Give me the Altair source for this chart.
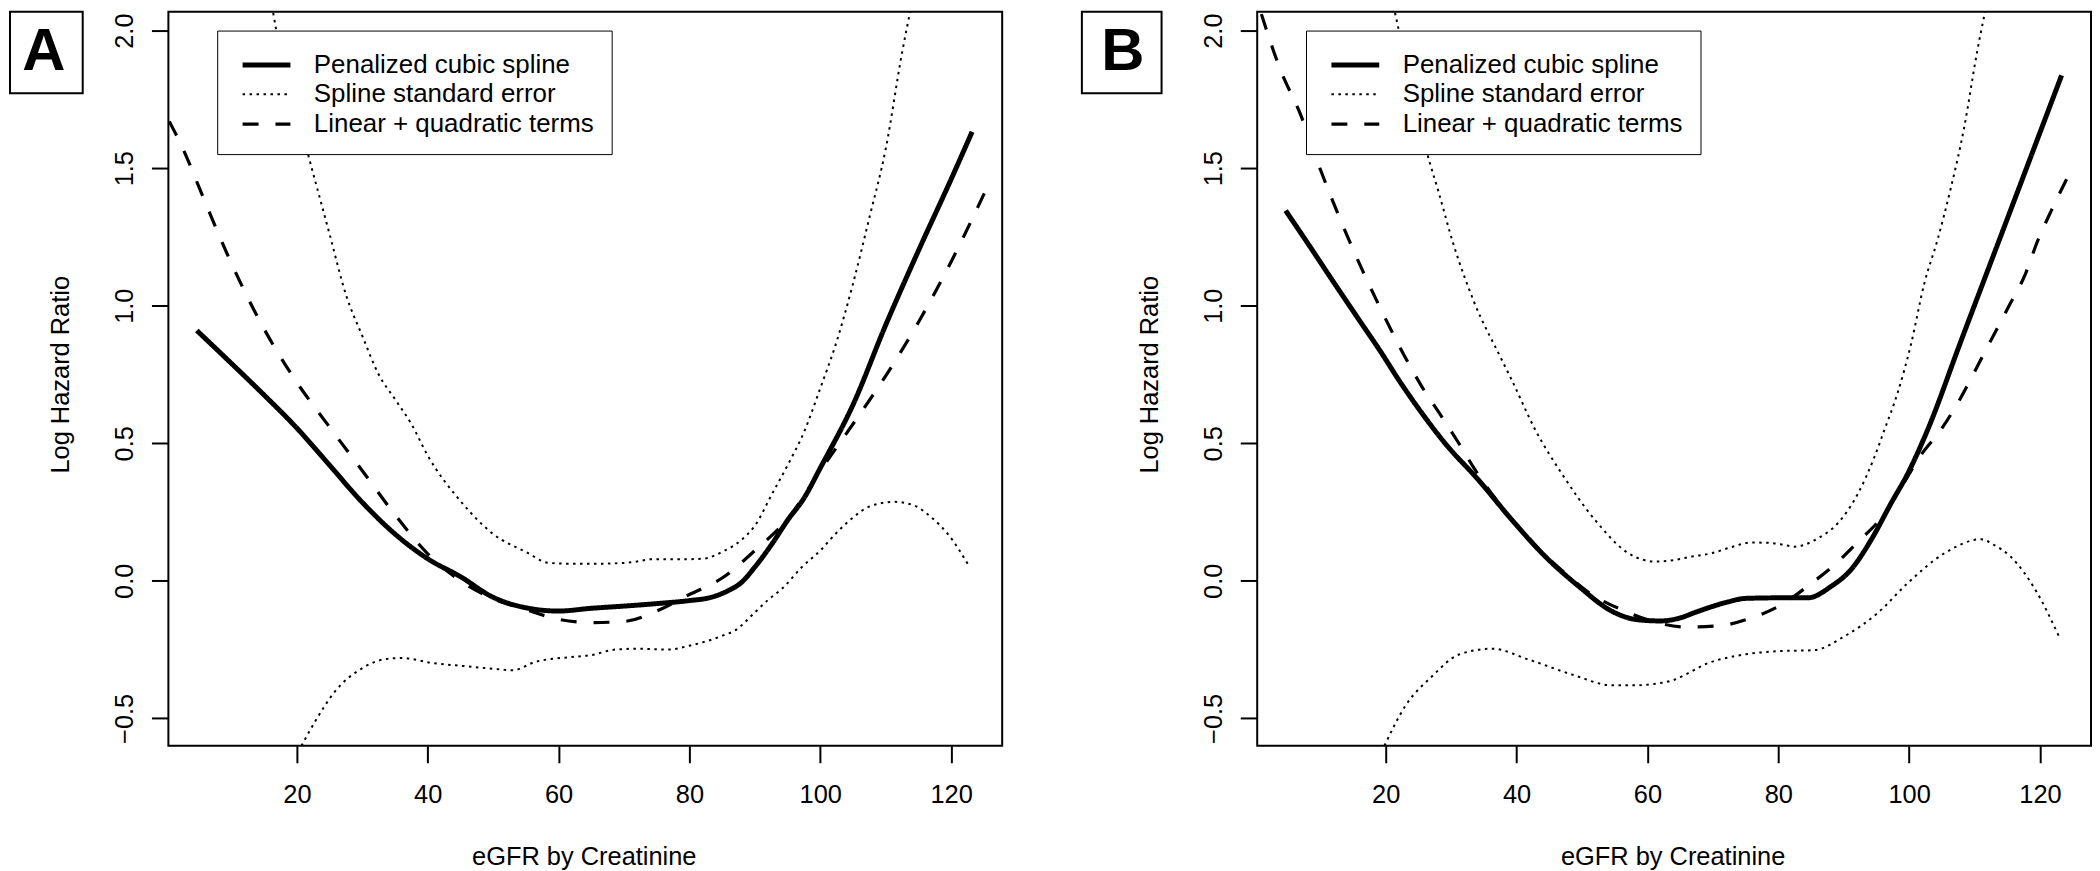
import altair as alt
import pandas as pd

FONT = "Liberation Sans, Arial, sans-serif"

X_TICKS = [20, 40, 60, 80, 100, 120]
Y_TICKS = [-0.5, 0.0, 0.5, 1.0, 1.5, 2.0]
SERIES = ["Penalized cubic spline", "Spline standard error", "Linear + quadratic terms"]
PANEL_LABELS = ["A", "B"]
X_TITLE = "eGFR by Creatinine"
Y_TITLE = "Log Hazard Ratio"

# ---------------- Panel A ----------------
A_SPLINE_X = [4.7, 10, 15, 20, 25, 30, 35, 40, 45, 50, 55, 60, 65, 70, 75, 80, 83, 86, 88, 90,
              92.5, 95, 97.5, 100, 105, 110, 115, 120, 123.2]
A_SPLINE_Y = [0.91, 0.79, 0.675, 0.555, 0.42, 0.285, 0.17, 0.08, 0.015, -0.06, -0.098, -0.11, -0.10,
              -0.092, -0.083, -0.072, -0.062, -0.035, -0.005, 0.05, 0.13, 0.22, 0.30, 0.41, 0.64,
              0.93, 1.20, 1.46, 1.632]

A_QUAD_X = [0.5, 2.6, 5.4, 9.5, 14.2, 19.6, 24.8, 30, 35, 40, 45, 50, 55, 60, 65, 70, 75, 80, 85,
            90, 95, 100, 105, 110, 115, 120, 125.3]
A_QUAD_Y = [1.67, 1.57, 1.41, 1.18, 0.95, 0.735, 0.565, 0.40, 0.24, 0.098, 0.0, -0.065, -0.105,
            -0.14, -0.152, -0.148, -0.11, -0.05, 0.01, 0.11, 0.225, 0.40, 0.57, 0.745, 0.94, 1.16, 1.42]

A_SE_UP_X = [16.2, 18, 20, 22.5, 25, 27.5, 30, 32.5, 35, 37.5, 40, 45, 50, 55, 58.5, 62, 66, 70, 72,
             74, 78, 82, 85, 88, 90, 92.5, 95, 97.5, 100, 102.5, 105, 107.5, 110, 112.5, 114]
A_SE_UP_Y = [2.09, 1.86, 1.70, 1.48, 1.26, 1.04, 0.89, 0.75, 0.66, 0.57, 0.455, 0.29, 0.17, 0.105,
             0.065, 0.062, 0.062, 0.065, 0.07, 0.078, 0.078, 0.08, 0.105, 0.15, 0.20, 0.31, 0.42,
             0.54, 0.70, 0.87, 1.08, 1.32, 1.57, 1.92, 2.10]

A_SE_LO_X = [20.7, 22.8, 25.8, 29.9, 34, 36, 41, 46, 50, 53, 56.4, 61.5, 65, 68.7, 72, 76.8, 80,
             82, 85, 87, 90, 92.1, 94.1, 97.2, 100, 102.3, 105, 107.5, 111.3, 114.4, 117, 119.5, 122.8]
A_SE_LO_Y = [-0.60, -0.511, -0.403, -0.319, -0.283, -0.281, -0.30, -0.311, -0.32, -0.325, -0.295,
             -0.278, -0.27, -0.25, -0.247, -0.25, -0.236, -0.224, -0.20, -0.18, -0.115, -0.068,
             -0.03, 0.05, 0.11, 0.17, 0.23, 0.27, 0.287, 0.273, 0.23, 0.17, 0.051]

# ---------------- Panel B ----------------
B_SPLINE_X = [4.7, 8, 12, 16, 19.2, 22, 25.3, 29.1, 34.2, 39.3, 44.4, 49.5, 54.6, 58.6, 62, 65,
              67.3, 72.3, 75, 80, 84.5, 88.1, 91.1, 94.2, 97.2, 99.8, 102.8, 107.9, 113, 118.1, 123.3]
B_SPLINE_Y = [1.346, 1.23, 1.087, 0.946, 0.834, 0.73, 0.617, 0.499, 0.366, 0.221, 0.088, -0.02,
              -0.111, -0.142, -0.146, -0.135, -0.115, -0.077, -0.064, -0.062, -0.062, -0.02, 0.04,
              0.149, 0.28, 0.39, 0.547, 0.87, 1.19, 1.51, 1.837]

B_QUAD_X = [1.0, 3.9, 6.9, 10, 14.1, 19.2, 25.5, 28.6, 31.2, 33.7, 37.3, 42, 47.4, 51.5, 56.1, 60.5,
            65.7, 71.1, 75.9, 80.5, 84.8, 88.6, 92.2, 95.7, 98.8, 101.8, 104.8, 107.5, 110, 112.5,
            115.1, 117.8, 119.6, 121.7, 124.5]
B_QUAD_Y = [2.06, 1.858, 1.70, 1.496, 1.255, 0.99, 0.707, 0.595, 0.499, 0.402, 0.282, 0.15, 0.028,
            -0.05, -0.105, -0.145, -0.168, -0.163, -0.135, -0.087, -0.014, 0.058, 0.142, 0.227,
            0.34, 0.457, 0.547, 0.649, 0.76, 0.874, 0.992, 1.117, 1.233, 1.344, 1.48]

B_SE_UP_X = [21.2, 22.2, 24, 26.3, 28, 30.4, 33.5, 37.6, 39.3, 42.9, 46.9, 52, 57.1, 61.2, 64, 66.8,
             69.8, 72.5, 75.9, 78.5, 81, 82.5, 86.1, 89.1, 92.2, 94.7, 96.2, 98.2, 100.3, 102.3,
             104.3, 106.4, 108.4, 110.4, 111.7]
B_SE_UP_Y = [2.09, 1.98, 1.79, 1.557, 1.42, 1.22, 1.014, 0.81, 0.728, 0.547, 0.39, 0.221, 0.10,
             0.07, 0.075, 0.088, 0.10, 0.12, 0.139, 0.138, 0.13, 0.124, 0.155, 0.209, 0.318, 0.45,
             0.547, 0.68, 0.861, 1.079, 1.236, 1.43, 1.646, 1.924, 2.08]

B_SE_LO_X = [19.8, 23, 27.1, 31.2, 36.3, 41.8, 48.5, 54.6, 58, 62.2, 64.2, 66.8, 68.8, 73.4, 80,
             85.5, 90.1, 95.2, 99.8, 105.4, 111, 113, 115.5, 119.6, 122.9]
B_SE_LO_Y = [-0.60, -0.455, -0.347, -0.268, -0.247, -0.286, -0.341, -0.38, -0.38, -0.371, -0.359,
             -0.329, -0.304, -0.274, -0.256, -0.252, -0.202, -0.117, -0.008, 0.10, 0.151, 0.13,
             0.088, -0.045, -0.202]


def make_df(spline, quad, up, lo):
    rows = []
    for (xs, ys), series, part in [
        (spline, SERIES[0], "spline"),
        (up, SERIES[1], "se_upper"),
        (lo, SERIES[1], "se_lower"),
        (quad, SERIES[2], "quad"),
    ]:
        for x, y in zip(xs, ys):
            rows.append({"x": x, "y": y, "series": series, "part": part})
    return pd.DataFrame(rows)


PLOT_W = 837
PLOT_H = 737

legend = alt.Legend(
    title=None, orient="none", legendX=49, legendY=19,
    symbolType="M-1.6,0H1.6", symbolSize=900, symbolStrokeColor="black",
    labelFont=FONT, labelFontSize=26, labelColor="black", labelOffset=30, labelLimit=0,
    symbolOffset=15, padding=17, rowPadding=0,
    strokeColor="black", fillColor="white",
)


def panel(df, label, box_x, box_x2, label_x):
    lines = alt.Chart(df).mark_line(clip=True, color="black", interpolate="monotone",
                                    strokeCap="butt").encode(
        x=alt.X("x:Q", scale=alt.Scale(domain=[0.36, 127.8], nice=False, zero=False),
                axis=alt.Axis(values=X_TICKS, title=X_TITLE, titleX=417, titleY=119,
                              titleBaseline="alphabetic", titleAlign="center",
                              labelPadding=20, labelBaseline="top")),
        y=alt.Y("y:Q", scale=alt.Scale(domain=[-0.60, 2.069], nice=False, zero=False),
                axis=alt.Axis(values=Y_TICKS, format=".1f", title=Y_TITLE, titleAngle=270,
                              titleX=-100, titleY=364, titleBaseline="alphabetic",
                              titleAlign="center", labelAngle=270, labelAlign="center",
                              labelBaseline="alphabetic", labelPadding=19)),
        strokeDash=alt.StrokeDash("series:N", scale=alt.Scale(domain=SERIES,
                                  range=[[1, 0], [2.5, 4.5], [16, 17]]), legend=legend),
        strokeWidth=alt.StrokeWidth("series:N", scale=alt.Scale(type="ordinal", domain=SERIES,
                                    range=[5, 2, 3.2]), legend=legend),
        detail="part:N",
        order=alt.Order("x:Q"),
    )
    lab = pd.DataFrame({"label": [label]})
    box = alt.Chart(lab).mark_rect(fill="white", stroke="black", strokeWidth=2).encode(
        x=alt.value(box_x), x2=alt.value(box_x2), y=alt.value(0), y2=alt.value(82))
    txt = alt.Chart(lab).mark_text(font=FONT, fontSize=60, fontWeight="bold", color="black",
                                   align="center", baseline="alphabetic").encode(
        x=alt.value(label_x), y=alt.value(59), text="label:N")
    return alt.layer(lines, box, txt).properties(width=PLOT_W, height=PLOT_H)


df_a = make_df((A_SPLINE_X, A_SPLINE_Y), (A_QUAD_X, A_QUAD_Y), (A_SE_UP_X, A_SE_UP_Y),
               (A_SE_LO_X, A_SE_LO_Y))
df_b = make_df((B_SPLINE_X, B_SPLINE_Y), (B_QUAD_X, B_QUAD_Y), (B_SE_UP_X, B_SE_UP_Y),
               (B_SE_LO_X, B_SE_LO_Y))

pa = panel(df_a, PANEL_LABELS[0], -159, -86, -125)
pb = panel(df_b, PANEL_LABELS[1], -176, -96, -135)

chart = alt.hconcat(pa, pb, spacing=256, bounds="flush").resolve_legend(
    strokeDash="independent", strokeWidth="independent"
).resolve_scale(strokeDash="independent", strokeWidth="independent").properties(
    padding=0, background="white"
).configure_view(
    stroke="black", strokeWidth=2
).configure_axis(
    domain=False, grid=False, ticks=True, tickColor="black", tickWidth=2, tickSize=17,
    labelFont=FONT, labelFontSize=25.5, labelColor="black", labelOverlap=False, labelFlush=False,
    titleFont=FONT, titleFontSize=25.5, titleFontWeight="normal", titleColor="black",
)

chart.save("out.html", embed_options={"renderer": "svg", "actions": False})
